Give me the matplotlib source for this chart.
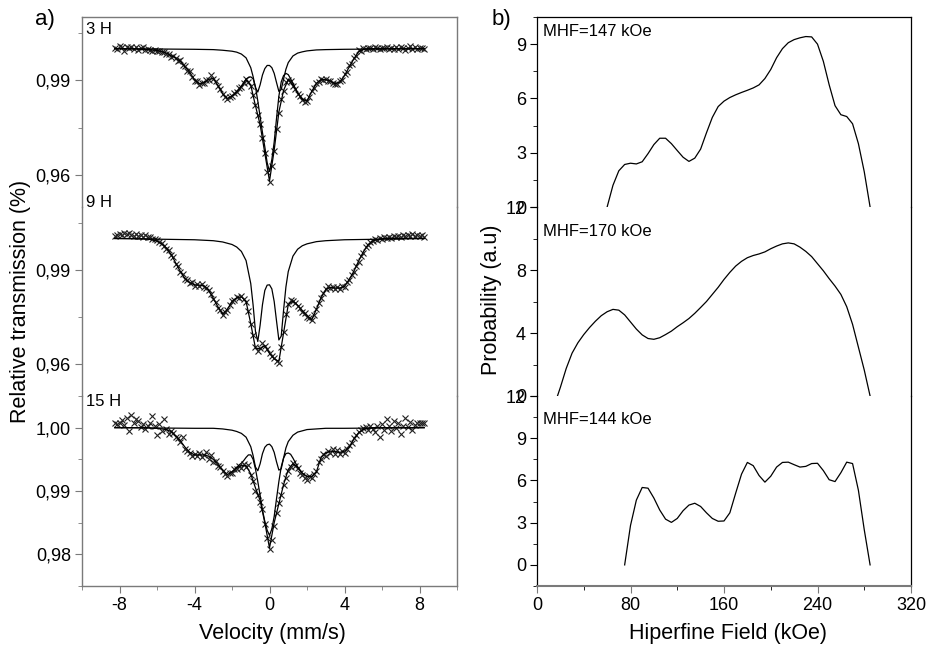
import numpy as np
import matplotlib
matplotlib.use('Agg')
import matplotlib.pyplot as plt
from matplotlib.ticker import MultipleLocator, FuncFormatter

plt.rcParams['font.family'] = ['Liberation Sans', 'DejaVu Sans']
plt.rcParams['axes.unicode_minus'] = False

# ---- a) Mossbauer spectra ----
vel_data = np.linspace(-8.25, 8.25, 133)   # channel velocities (mm/s)
vel_fit = np.linspace(-8.25, 8.25, 67)
vel_comp = np.linspace(-2.0, 2.0, 33)
vel_doub = [-8.25, -4, -3, -2.5, -2.0, -1.75, -1.5, -1.25, -1.0, -0.875, -0.75, -0.625,
            -0.5, -0.375, -0.25, -0.125, 0.0, 0.125, 0.25, 0.375, 0.5, 0.625, 0.75,
            0.875, 1.0, 1.25, 1.5, 1.75, 2.0, 2.5, 3, 4, 8.25]

data_3h = [1.0002, 0.9999, 1.0008, 1.0004, 0.9994, 1.0005, 1.0002, 1.0006, 1.0000, 1.0004,
           0.9996, 1.0002, 1.0006, 0.9995, 1.0000, 0.9997, 0.9993, 0.9997, 0.9992, 0.9993,
           0.9988, 0.9991, 0.9984, 0.9983, 0.9975, 0.9977, 0.9970, 0.9962, 0.9963, 0.9948,
           0.9944, 0.9930, 0.9928, 0.9911, 0.9899, 0.9897, 0.9886, 0.9891, 0.9891, 0.9901,
           0.9902, 0.9916, 0.9904, 0.9898, 0.9881, 0.9873, 0.9856, 0.9846, 0.9841, 0.9847,
           0.9849, 0.9859, 0.9862, 0.9875, 0.9879, 0.9893, 0.9903, 0.9896, 0.9882, 0.9854,
           0.9822, 0.9789, 0.9763, 0.9718, 0.9672, 0.9612, 0.9580, 0.9628, 0.9677, 0.9747,
           0.9798, 0.9841, 0.9866, 0.9894, 0.9902, 0.9898, 0.9883, 0.9874, 0.9858, 0.9851,
           0.9837, 0.9833, 0.9836, 0.9847, 0.9867, 0.9876, 0.9892, 0.9896, 0.9905, 0.9902,
           0.9903, 0.9898, 0.9899, 0.9891, 0.9890, 0.9887, 0.9898, 0.9902, 0.9919, 0.9925,
           0.9947, 0.9953, 0.9972, 0.9977, 0.9995, 0.9993, 1.0002, 0.9998, 1.0003, 1.0001,
           0.9998, 1.0004, 1.0002, 0.9999, 1.0003, 1.0001, 1.0005, 0.9998, 1.0003, 1.0000,
           1.0004, 0.9999, 1.0006, 1.0002, 0.9997, 1.0003, 1.0007, 1.0000, 1.0004, 0.9998,
           1.0002, 1.0003, 1.0000]
fit_3h = [1.0000, 1.0000, 1.0000, 1.0000, 0.9999, 0.9999, 0.9998, 0.9997, 0.9996, 0.9994,
          0.9991, 0.9986, 0.9978, 0.9971, 0.9960, 0.9942, 0.9925, 0.9902, 0.9889, 0.9893,
          0.9903, 0.9906, 0.9884, 0.9858, 0.9843, 0.9850, 0.9864, 0.9880, 0.9902, 0.9885,
          0.9820, 0.9760, 0.9670, 0.9582, 0.9680, 0.9800, 0.9868, 0.9903, 0.9885, 0.9860,
          0.9840, 0.9835, 0.9865, 0.9890, 0.9903, 0.9902, 0.9898, 0.9889, 0.9895, 0.9915,
          0.9942, 0.9968, 0.9990, 0.9998, 1.0000, 1.0000, 1.0000, 1.0000, 1.0000, 1.0000,
          1.0000, 1.0000, 1.0000, 1.0000, 1.0000, 1.0000, 1.0000]
comp_3h = [0.9850, 0.9857, 0.9864, 0.9873, 0.9882, 0.9893, 0.9904, 0.9909, 0.9911, 0.9905,
           0.9880, 0.9835, 0.9785, 0.9735, 0.9690, 0.9640, 0.9612, 0.9650, 0.9705, 0.9780,
           0.9850, 0.9895, 0.9915, 0.9922, 0.9918, 0.9905, 0.9890, 0.9875, 0.9861, 0.9850,
           0.9841, 0.9837, 0.9836]
doub_3h = [1.0, 0.9998, 0.9997, 0.9995, 0.9992, 0.9989, 0.9983, 0.9971, 0.9940, 0.9912,
           0.9877, 0.9863, 0.9886, 0.9917, 0.9937, 0.9947, 0.9947, 0.9940, 0.9922, 0.9893,
           0.9865, 0.9871, 0.9904, 0.9935, 0.9956, 0.9977, 0.9986, 0.9990, 0.9993, 0.9996,
           0.9997, 0.9998, 1.0]

data_9h = [1.0008, 1.0012, 1.0015, 1.0012, 1.0018, 1.0014, 1.0016, 1.0011, 1.0008, 1.0013,
           1.0009, 1.0012, 1.0006, 1.0010, 1.0004, 1.0006, 0.9999, 0.9997, 0.9994, 0.9990,
           0.9985, 0.9976, 0.9968, 0.9963, 0.9948, 0.9940, 0.9920, 0.9912, 0.9893, 0.9887,
           0.9870, 0.9868, 0.9858, 0.9861, 0.9850, 0.9856, 0.9849, 0.9855, 0.9846, 0.9843,
           0.9835, 0.9825, 0.9808, 0.9798, 0.9780, 0.9772, 0.9758, 0.9766, 0.9773, 0.9790,
           0.9801, 0.9806, 0.9814, 0.9812, 0.9817, 0.9808, 0.9798, 0.9770, 0.9728, 0.9695,
           0.9654, 0.9643, 0.9652, 0.9668, 0.9659, 0.9648, 0.9636, 0.9627, 0.9620, 0.9612,
           0.9606, 0.9655, 0.9702, 0.9760, 0.9792, 0.9806, 0.9800, 0.9795, 0.9786, 0.9780,
           0.9768, 0.9764, 0.9752, 0.9748, 0.9740, 0.9758, 0.9776, 0.9796, 0.9810, 0.9828,
           0.9840, 0.9848, 0.9843, 0.9846, 0.9840, 0.9846, 0.9841, 0.9850, 0.9846, 0.9862,
           0.9868, 0.9885, 0.9893, 0.9913, 0.9925, 0.9945, 0.9955, 0.9972, 0.9978, 0.9990,
           0.9991, 0.9998, 0.9996, 1.0002, 0.9999, 1.0004, 1.0001, 1.0006, 1.0003, 1.0008,
           1.0004, 1.0009, 1.0006, 1.0011, 1.0007, 1.0012, 1.0008, 1.0013, 1.0009, 1.0011,
           1.0007, 1.0010, 1.0006]
fit_9h = [1.0000, 1.0000, 1.0000, 1.0000, 1.0000, 0.9999, 0.9999, 0.9998, 0.9996, 0.9992,
          0.9983, 0.9970, 0.9950, 0.9922, 0.9895, 0.9872, 0.9860, 0.9853, 0.9852, 0.9850,
          0.9837, 0.9810, 0.9783, 0.9760, 0.9775, 0.9800, 0.9812, 0.9815, 0.9800, 0.9730,
          0.9652, 0.9650, 0.9660, 0.9635, 0.9618, 0.9610, 0.9700, 0.9790, 0.9802, 0.9788,
          0.9770, 0.9755, 0.9742, 0.9775, 0.9812, 0.9838, 0.9845, 0.9843, 0.9843, 0.9848,
          0.9870, 0.9896, 0.9928, 0.9957, 0.9980, 0.9992, 0.9997, 0.9999, 1.0000, 1.0000,
          1.0000, 1.0000, 1.0000, 1.0000, 1.0000, 1.0000, 1.0000]
doub_9h = [1.0, 0.9996, 0.9993, 0.9989, 0.9981, 0.9973, 0.9959, 0.9930, 0.9857, 0.9789,
           0.9706, 0.9673, 0.9725, 0.9790, 0.9835, 0.9852, 0.9853, 0.9840, 0.9800, 0.9738,
           0.9678, 0.9690, 0.9772, 0.9846, 0.9895, 0.9944, 0.9966, 0.9977, 0.9983, 0.9990,
           0.9993, 0.9996, 1.0]

data_15h = [1.0007, 1.0006, 1.0008, 1.0012, 1.0004, 1.0016, 0.9995, 1.0020, 1.0007, 1.0013,
            1.0010, 1.0001, 1.0006, 0.9998, 1.0003, 1.0008, 1.0018, 1.0002, 0.9989, 1.0006,
            0.9994, 1.0013, 0.9998, 0.9990, 0.9995, 0.9991, 0.9986, 0.9984, 0.9978, 0.9986,
            0.9966, 0.9963, 0.9960, 0.9956, 0.9958, 0.9955, 0.9960, 0.9954, 0.9957, 0.9962,
            0.9950, 0.9957, 0.9946, 0.9948, 0.9940, 0.9938, 0.9932, 0.9927, 0.9923, 0.9928,
            0.9929, 0.9935, 0.9934, 0.9940, 0.9937, 0.9942, 0.9938, 0.9941, 0.9925, 0.9916,
            0.9900, 0.9893, 0.9883, 0.9871, 0.9848, 0.9825, 0.9808, 0.9822, 0.9845, 0.9866,
            0.9881, 0.9893, 0.9910, 0.9921, 0.9931, 0.9938, 0.9944, 0.9940, 0.9936, 0.9929,
            0.9926, 0.9921, 0.9918, 0.9924, 0.9921, 0.9927, 0.9932, 0.9946, 0.9950, 0.9958,
            0.9956, 0.9963, 0.9960, 0.9966, 0.9959, 0.9964, 0.9958, 0.9963, 0.9960, 0.9967,
            0.9972, 0.9976, 0.9984, 0.9988, 0.9993, 0.9996, 0.9999, 1.0001, 0.9997, 1.0002,
            0.9998, 0.9993, 1.0003, 0.9985, 1.0006, 0.9996, 1.0014, 1.0002, 0.9995, 1.0010,
            0.9999, 1.0008, 0.9990, 1.0003, 1.0016, 1.0001, 1.0009, 0.9997, 1.0005, 1.0007,
            1.0008, 1.0007, 1.0007]
fit_15h = [1.0000, 1.0000, 1.0000, 1.0000, 1.0000, 1.0000, 1.0000, 1.0000, 0.9999, 0.9999,
           0.9998, 0.9997, 0.9994, 0.9987, 0.9979, 0.9969, 0.9961, 0.9957, 0.9957, 0.9957,
           0.9955, 0.9950, 0.9942, 0.9933, 0.9926, 0.9930, 0.9937, 0.9940, 0.9940, 0.9927,
           0.9905, 0.9885, 0.9850, 0.9810, 0.9850, 0.9880, 0.9910, 0.9934, 0.9943, 0.9938,
           0.9928, 0.9923, 0.9923, 0.9930, 0.9953, 0.9960, 0.9963, 0.9962, 0.9961, 0.9963,
           0.9969, 0.9982, 0.9992, 0.9997, 0.9999, 1.0000, 1.0000, 1.0000, 1.0000, 1.0000,
           1.0000, 1.0000, 1.0000, 1.0000, 1.0000, 1.0000, 1.0000]
comp_15h = [0.9930, 0.9933, 0.9937, 0.9941, 0.9944, 0.9948, 0.9953, 0.9957, 0.9957, 0.9950,
            0.9935, 0.9915, 0.9893, 0.9870, 0.9852, 0.9838, 0.9830, 0.9840, 0.9860, 0.9888,
            0.9915, 0.9938, 0.9952, 0.9959, 0.9960, 0.9958, 0.9952, 0.9945, 0.9938, 0.9932,
            0.9928, 0.9925, 0.9923]
doub_15h = [1.0, 0.9999, 0.9999, 0.9998, 0.9996, 0.9994, 0.9991, 0.9985, 0.9970, 0.9956,
            0.9938, 0.9932, 0.9943, 0.9959, 0.9969, 0.9973, 0.9974, 0.9970, 0.9961, 0.9946,
            0.9933, 0.9935, 0.9952, 0.9968, 0.9978, 0.9988, 0.9993, 0.9995, 0.9997, 0.9998,
            0.9999, 0.9999, 1.0]

# ---- b) hyperfine field distributions ----
field_3h = np.arange(60, 286, 5)
prob_3h = [0.0, 1.2, 2.0, 2.35, 2.42, 2.38, 2.5, 2.95, 3.45, 3.8, 3.8, 3.5, 3.12, 2.75, 2.52,
           2.7, 3.2, 4.1, 4.95, 5.55, 5.85, 6.05, 6.2, 6.33, 6.45, 6.58, 6.75, 7.1, 7.6, 8.25,
           8.75, 9.08, 9.25, 9.35, 9.42, 9.4, 9.0, 8.05, 6.75, 5.6, 5.1, 5.0, 4.6, 3.5, 1.95, 0.0]
field_9h = np.concatenate(([17.5], np.arange(20, 286, 5)))
prob_9h = [0.0, 0.55, 1.75, 2.72, 3.38, 3.9, 4.35, 4.75, 5.1, 5.35, 5.5, 5.45, 5.15, 4.7, 4.25,
           3.88, 3.65, 3.6, 3.7, 3.9, 4.12, 4.4, 4.65, 4.92, 5.25, 5.62, 6.0, 6.45, 6.9, 7.4,
           7.85, 8.25, 8.55, 8.78, 8.92, 9.02, 9.15, 9.35, 9.52, 9.66, 9.72, 9.66, 9.45, 9.18,
           8.85, 8.4, 7.95, 7.45, 6.98, 6.45, 5.67, 4.55, 3.1, 1.65, 0.0]
field_15h = np.arange(75, 286, 5)
prob_15h = [0.0, 2.8, 4.6, 5.5, 5.45, 4.75, 3.9, 3.25, 3.02, 3.3, 3.85, 4.25, 4.38, 4.15, 3.7,
            3.3, 3.1, 3.12, 3.7, 5.1, 6.45, 7.28, 7.05, 6.35, 5.88, 6.3, 6.95, 7.28, 7.3, 7.12,
            6.95, 7.0, 7.2, 7.22, 6.7, 6.05, 5.92, 6.55, 7.3, 7.2, 5.3, 2.5, 0.0]

labels_a = ['3 H', '9 H', '15 H']
labels_b = ['MHF=147 kOe', 'MHF=170 kOe', 'MHF=144 kOe']

W, H = 934, 651
fig = plt.figure(figsize=(W / 100, H / 100), dpi=100)

rows = [(17, 207), (207, 396), (396, 586)]   # pixel top/bottom of each layer
def box(x0, x1, r):
    return [x0 / W, 1 - r[1] / H, (x1 - x0) / W, (r[1] - r[0]) / H]

grey = '#7a7a7a'
tick_fs = 13
comma = FuncFormatter(lambda v, p: f'{v:.2f}'.replace('.', ','))

spectra = [(data_3h, fit_3h, comp_3h, doub_3h, (0.95, 1.01), 0.03),
           (data_9h, fit_9h, None, doub_9h, (0.95, 1.01), 0.03),
           (data_15h, fit_15h, comp_15h, doub_15h, (0.975, 1.005), 0.01)]

for i, (dat, fit, comp, doub, ylim, step) in enumerate(spectra):
    ax = fig.add_axes(box(82, 457, rows[i]))
    ax.plot(vel_data, dat, ls='none', marker='x', ms=4, mew=0.8, color='#222222', zorder=2)
    ax.plot(vel_fit, fit, color='k', lw=0.9, zorder=3)
    ax.plot(vel_doub, doub, color='k', lw=0.9, zorder=3)
    if comp is not None:
        ax.plot(vel_comp, comp, color='k', lw=0.9, zorder=3)
    ax.set_xlim(-10, 10)
    ax.set_ylim(*ylim)
    ax.yaxis.set_major_locator(MultipleLocator(step))
    ax.yaxis.set_minor_locator(MultipleLocator(step / 2))
    ax.yaxis.set_major_formatter(comma)
    ax.xaxis.set_major_locator(MultipleLocator(4))
    ax.xaxis.set_minor_locator(MultipleLocator(2))
    for s in ax.spines.values():
        s.set_color(grey)
        s.set_linewidth(1.0)
    ax.spines['top'].set_visible(i == 0)
    ax.spines['bottom'].set_visible(i == 2)
    ax.tick_params(which='both', direction='out', color=grey, labelsize=tick_fs,
                   right=False, top=False, bottom=(i == 2), labelbottom=(i == 2), pad=3)
    ax.tick_params(which='major', length=5)
    ax.tick_params(which='minor', length=3)
    ax.patch.set_alpha(0)

dists = [(field_3h, prob_3h, (0, 10.5), 3, 1.5),
         (field_9h, prob_9h, (0, 12), 4, 2),
         (field_15h, prob_15h, (-1.5, 12), 3, 1.5)]

for i, (fx, py, ylim, step, mstep) in enumerate(dists):
    ax = fig.add_axes(box(537, 911, rows[i]))
    ax.plot(fx, py, color='k', lw=0.9)
    ax.set_xlim(0, 320)
    ax.set_ylim(*ylim)
    ax.yaxis.set_major_locator(MultipleLocator(step))
    ax.yaxis.set_minor_locator(MultipleLocator(mstep))
    ax.xaxis.set_major_locator(MultipleLocator(80))
    ax.xaxis.set_minor_locator(MultipleLocator(40))
    for s in ax.spines.values():
        s.set_color('k')
        s.set_linewidth(0.9)
    ax.spines['bottom'].set_color(grey)
    ax.spines['bottom'].set_linewidth(1.5)
    ax.spines['top'].set_visible(i == 0)
    ax.spines['bottom'].set_visible(i == 2)
    ax.tick_params(which='both', direction='out', labelsize=tick_fs,
                   right=False, top=False, bottom=(i == 2), labelbottom=(i == 2), pad=3)
    ax.tick_params(which='major', length=5)
    ax.tick_params(which='minor', length=3)
    ax.tick_params(axis='x', color=grey)
    ax.patch.set_alpha(0)

# layer labels
for lab, y in zip(labels_a, [30, 203, 402]):
    fig.text(86 / W, 1 - y / H, lab, fontsize=12, va='center', ha='left')
for lab, y in zip(labels_b, [32, 231, 419]):
    fig.text(543 / W, 1 - y / H, lab, fontsize=12, va='center', ha='left')

fig.text(45 / W, 1 - 20 / H, 'a)', fontsize=16, ha='center', va='center')
fig.text(501 / W, 1 - 19 / H, 'b)', fontsize=16, ha='center', va='center')

fig.text(21 / W, 1 - 301 / H, 'Relative transmission (%)', rotation=90,
         fontsize=15.5, ha='center', va='center')
fig.text(492 / W, 1 - 300 / H, 'Probability (a.u)', rotation=90,
         fontsize=15.5, ha='center', va='center')
fig.text(272 / W, 1 - 633 / H, 'Velocity (mm/s)', fontsize=15.5, ha='center', va='center')
fig.text(728 / W, 1 - 633 / H, 'Hiperfine Field (kOe)', fontsize=15.5, ha='center', va='center')

fig.savefig('out.png', dpi=100)
